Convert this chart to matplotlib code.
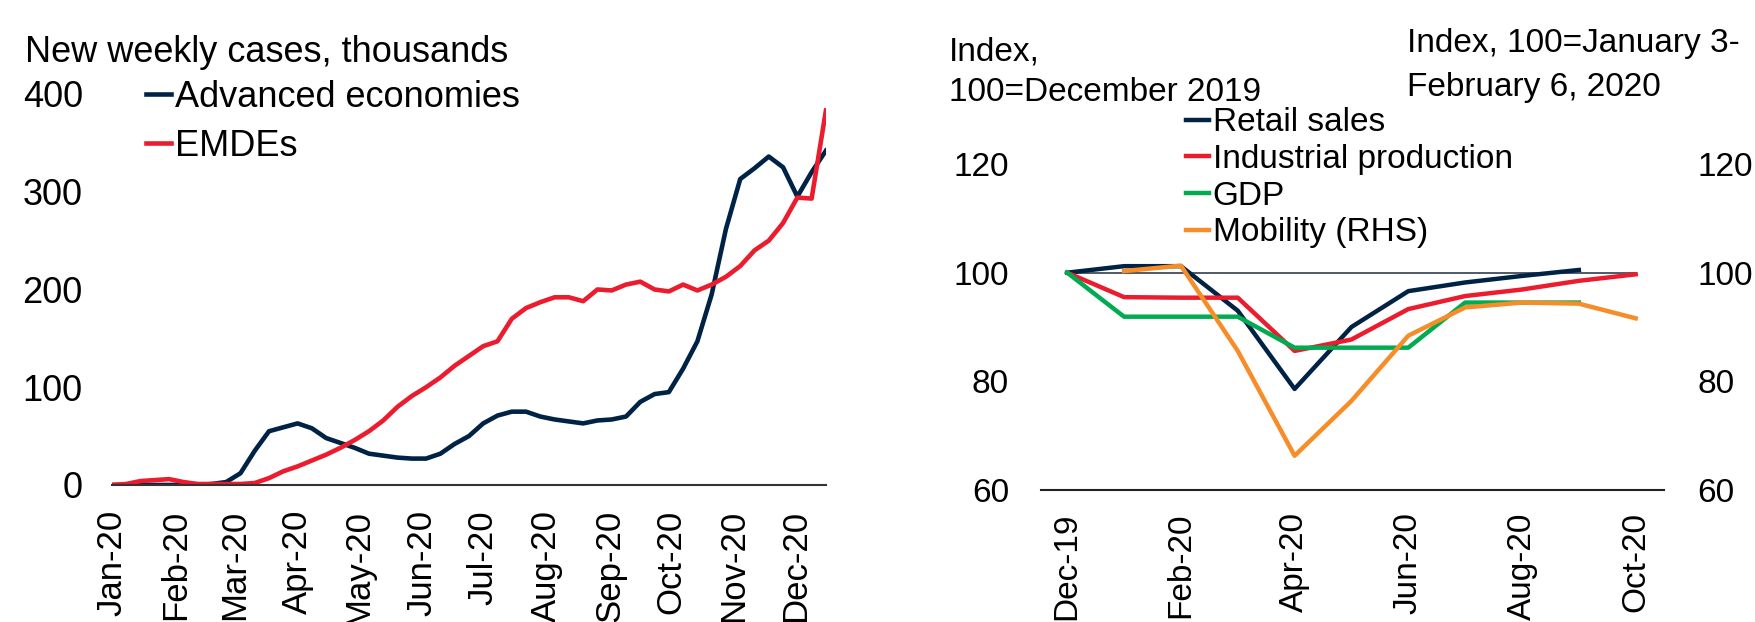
import numpy as np
import pandas as pd
import matplotlib as mpl
mpl.use('Agg')
from matplotlib import pyplot as plt
import matplotlib.dates as mdates

# left panel: weekly new cases, thousands (weeks from Jan 1 2020)
adv_cases = [0, 0, 0, 0, 0, 0, 0, 1, 3, 12, 35, 55, 59, 63, 58, 48, 43, 38, 32, 30,
             28, 27, 27, 32, 42, 50, 63, 71, 75, 75, 70, 67, 65, 63, 66, 67, 70, 85, 93, 95,
             119, 147, 195, 262, 313, 324, 336, 325, 295, 320, 342]
emde_cases = [0, 1, 4, 5, 6, 3, 1, 1, 1, 1, 2, 7, 14, 19, 25, 31, 38, 46, 55, 66,
              80, 91, 100, 110, 122, 132, 142, 147, 170, 181, 187, 192, 192, 188, 200, 199, 205, 208, 200, 198,
              205, 199, 205, 213, 224, 240, 250, 268, 294, 293, 383]
weeks = pd.date_range('2020-01-01', periods=len(adv_cases), freq='7D')

# right panel: monthly indexes
months = ['Dec-19', 'Jan-20', 'Feb-20', 'Mar-20', 'Apr-20', 'May-20',
          'Jun-20', 'Jul-20', 'Aug-20', 'Sep-20', 'Oct-20']
retail = [100, 101.2, 101.2, 93, 78.6, 90, 96.6, 98.2, 99.4, 100.5, np.nan]
indprod = [100, 95.5, 95.4, 95.4, 85.6, 87.7, 93.3, 95.7, 96.9, 98.5, 99.7]
gdp = [100, 91.9, 91.9, 91.9, 86.2, 86.2, 86.2, 94.5, 94.5, 94.5, np.nan]
mobility = [np.nan, 100.3, 101.3, 85.6, 66.3, 76.4, 88.4, 93.6, 94.5, 94.3, 91.6]

NAVY = '#002345'
RED = '#EB1C2D'
GREEN = '#00AB51'
ORANGE = '#F78D28'

plt.rcParams.update({'font.family': ['Liberation Sans', 'DejaVu Sans'],
                     'font.size': 25})

fig = plt.figure(figsize=(17.55, 6.22), dpi=100)

# ---- left panel
ax1 = fig.add_axes([0.0638, 0.2203, 0.4068, 0.6286])
ax1.plot(weeks, adv_cases, color=NAVY, lw=3.3, label='Advanced economies')
ax1.plot(weeks, emde_cases, color=RED, lw=3.3, label='EMDEs')
ax1.set_ylim(0, 400)
ax1.set_yticks([0, 100, 200, 300, 400])
ax1.set_xlim(weeks[0], weeks[-1])
ax1.xaxis.set_major_locator(mdates.MonthLocator())
ax1.xaxis.set_major_formatter(mdates.DateFormatter('%b-%y'))
for s in ['top', 'right', 'left']:
    ax1.spines[s].set_visible(False)
ax1.spines['bottom'].set_color('#333333')
ax1.spines['bottom'].set_linewidth(1.5)
ax1.tick_params(axis='y', length=0, pad=21, labelsize=26)
ax1.tick_params(axis='x', length=0, pad=18, labelrotation=90, labelsize=25)
ax1.legend(loc='upper left', bbox_to_anchor=(0.027, 1.073), frameon=False,
           handlelength=0.7, handletextpad=0.1, labelspacing=0.38,
           borderaxespad=0, fontsize=26)
fig.text(0.0142, 0.915, 'New weekly cases, thousands', fontsize=26, va='center', ha='left')

# ---- right panel
x = np.arange(len(months))
ax2 = fig.add_axes([0.5932, 0.2122, 0.3550, 0.5241])
ax2.plot(x, [100] * len(months), color='#1f2d3d', lw=1.1)
ax2.plot(x, retail, color=NAVY, lw=3.2, label='Retail sales')
ax2.plot(x, indprod, color=RED, lw=3.2, label='Industrial production')
ax2.plot(x, gdp, color=GREEN, lw=3.2, label='GDP')
ax2.set_ylim(60, 120)
ax2.set_yticks([60, 80, 100, 120])
ax2.set_xlim(-0.46, 10.5)
ax2.set_xticks(x[::2])
ax2.set_xticklabels(months[::2])
ax3 = ax2.twinx()
ax3.plot(x, mobility, color=ORANGE, lw=3.2, label='Mobility (RHS)')
ax3.set_ylim(60, 120)
ax3.set_yticks([60, 80, 100, 120])
for a in (ax2, ax3):
    for s in ['top', 'right', 'left']:
        a.spines[s].set_visible(False)
ax3.spines['bottom'].set_visible(False)
ax2.spines['bottom'].set_color('#222222')
ax2.spines['bottom'].set_linewidth(1.5)
ax2.tick_params(axis='y', length=0, pad=23, labelsize=24)
ax3.tick_params(axis='y', length=0, pad=24, labelsize=24)
ax2.tick_params(axis='x', length=0, pad=16, labelrotation=90, labelsize=24)

h2, l2 = ax2.get_legend_handles_labels()
h3, l3 = ax3.get_legend_handles_labels()
ax3.legend(h2 + h3, l2 + l3, loc='upper left', bbox_to_anchor=(0.211, 1.215),
           frameon=False, handlelength=0.7, handletextpad=0.1, labelspacing=0.17,
           borderaxespad=0, fontsize=24)

fig.text(0.5407, 0.916, 'Index,', fontsize=24, va='center', ha='left')
fig.text(0.5407, 0.851, '100=December 2019', fontsize=24, va='center', ha='left')
fig.text(0.8017, 0.93, 'Index, 100=January 3-', fontsize=24, va='center', ha='left')
fig.text(0.8017, 0.86, 'February 6, 2020', fontsize=24, va='center', ha='left')

fig.savefig('out.png', dpi=100)
